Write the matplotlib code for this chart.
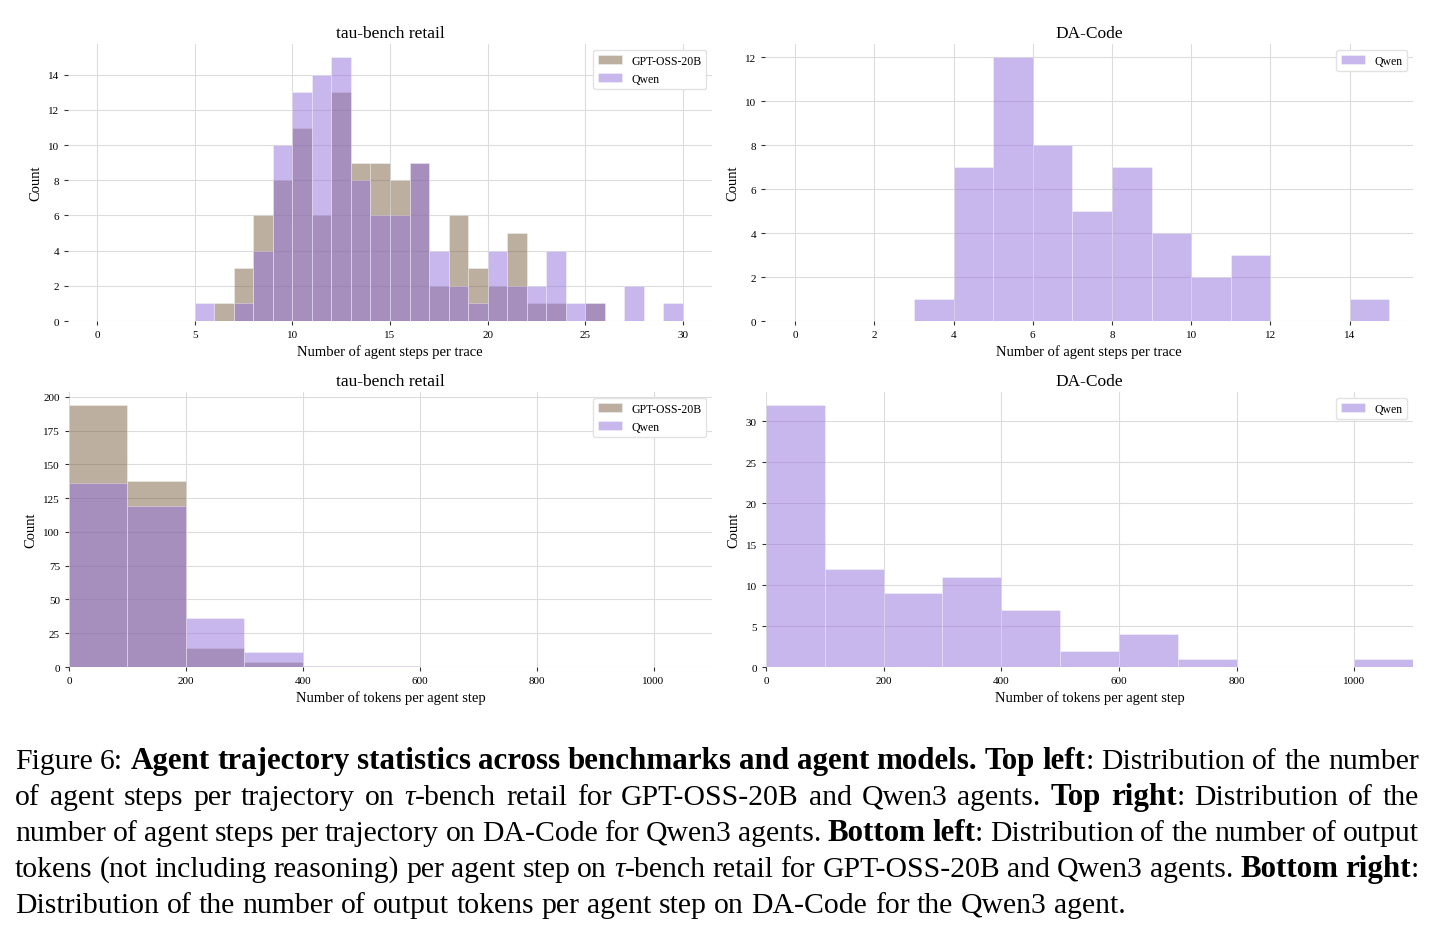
import matplotlib
matplotlib.use('Agg')
import matplotlib.pyplot as plt
from matplotlib.ticker import MultipleLocator

plt.rcParams['font.family'] = ['Liberation Serif', 'DejaVu Serif']

# ---------------- data ----------------
steps_edges = list(range(5, 31))
gpt_steps = [0, 1, 3, 6, 8, 11, 6, 13, 9, 9, 8, 9, 2, 6, 3, 2, 5, 1, 1, 0, 1, 0, 0, 0, 0]
qwen_steps = [1, 0, 1, 4, 10, 13, 14, 15, 8, 6, 6, 9, 4, 2, 1, 4, 2, 2, 4, 1, 1, 0, 2, 0, 1]

da_steps_edges = list(range(3, 16))
qwen_da_steps = [1, 7, 12, 8, 5, 7, 4, 2, 3, 0, 0, 1]

tok_edges = [0, 100, 200, 300, 400, 500, 600]
gpt_tokens = [194, 138, 14, 4, 1, 1]
qwen_tokens = [136, 119, 36, 11, 1, 1]

da_tok_edges = [0, 100, 200, 300, 400, 500, 600, 700, 800, 900, 1000, 1100]
qwen_da_tokens = [32, 12, 9, 11, 7, 2, 4, 1, 0, 0, 1]

titles = ["tau-bench retail", "DA-Code", "tau-bench retail", "DA-Code"]
xlabels = ["Number of agent steps per trace", "Number of agent steps per trace",
           "Number of tokens per agent step", "Number of tokens per agent step"]

GPT_COLOR = '#7b6141'
QWEN_COLOR = '#9370db'
ALPHA = 0.5

W, H = 1439, 937
fig = plt.figure(figsize=(W / 100, H / 100), dpi=100)
fig.patch.set_facecolor('white')


def ax_at(l, t, r, b):
    return fig.add_axes([l / W, 1 - b / H, (r - l) / W, (b - t) / H])


ax1 = ax_at(68, 45, 712, 322)
ax2 = ax_at(765, 45, 1413, 322)
ax3 = ax_at(69, 393, 712, 668)
ax4 = ax_at(766, 393, 1413, 668)


def hist(ax, edges, counts, color, label):
    lefts = edges[:-1]
    widths = [edges[i + 1] - edges[i] for i in range(len(counts))]
    ax.bar(lefts, counts, width=widths, align='edge', color=color, alpha=ALPHA,
           edgecolor='white', linewidth=0.45, label=label)


hist(ax1, steps_edges, gpt_steps, GPT_COLOR, 'GPT-OSS-20B')
hist(ax1, steps_edges, qwen_steps, QWEN_COLOR, 'Qwen')
hist(ax2, da_steps_edges, qwen_da_steps, QWEN_COLOR, 'Qwen')
hist(ax3, tok_edges, gpt_tokens, GPT_COLOR, 'GPT-OSS-20B')
hist(ax3, tok_edges, qwen_tokens, QWEN_COLOR, 'Qwen')
hist(ax4, da_tok_edges, qwen_da_tokens, QWEN_COLOR, 'Qwen')

ax1.set_xlim(-1.5, 31.5)
ax2.set_xlim(-0.76, 15.6)
ax3.set_xlim(0, 1100)
ax4.set_xlim(0, 1100)

ax1.xaxis.set_major_locator(MultipleLocator(5))
ax1.yaxis.set_major_locator(MultipleLocator(2))
ax2.xaxis.set_major_locator(MultipleLocator(2))
ax2.yaxis.set_major_locator(MultipleLocator(2))
ax3.xaxis.set_major_locator(MultipleLocator(200))
ax3.yaxis.set_major_locator(MultipleLocator(25))
ax4.xaxis.set_major_locator(MultipleLocator(200))
ax4.yaxis.set_major_locator(MultipleLocator(5))

for ax, title, xl in zip([ax1, ax2, ax3, ax4], titles, xlabels):
    ax.set_facecolor('white')
    for sp in ax.spines.values():
        sp.set_visible(False)
    ax.grid(True, color='#dcdcdc', linewidth=0.8)
    ax.set_axisbelow(True)
    ax.tick_params(labelsize=8, length=3, width=0.8, color='#333333', pad=3.5)
    ax.set_title(title, fontsize=12.5, pad=5)
    ax.set_xlabel(xl, fontsize=10.5, labelpad=4)
    ax.set_ylabel('Count', fontsize=10.5, labelpad=4)
    ax.legend(loc='upper right', fontsize=8.5, frameon=True, edgecolor='#e2e2e2',
              framealpha=1, borderaxespad=0.5, handlelength=2.0, handleheight=0.7)

# ---------------- caption ----------------
cap_lines = [
    [("Figure 6: ", 'n'), ("Agent trajectory statistics across benchmarks and agent models. Top left", 'b'),
     (": Distribution of the number", 'n')],
    [("of agent steps per trajectory on ", 'n'), ("τ", 'i'),
     ("-bench retail for GPT-OSS-20B and Qwen3 agents. ", 'n'), ("Top right", 'b'),
     (": Distribution of the", 'n')],
    [("number of agent steps per trajectory on DA-Code for Qwen3 agents. ", 'n'), ("Bottom left", 'b'),
     (": Distribution of the number of output", 'n')],
    [("tokens (not including reasoning) per agent step on ", 'n'), ("τ", 'i'),
     ("-bench retail for GPT-OSS-20B and Qwen3 agents. ", 'n'), ("Bottom right", 'b'), (":", 'n')],
    [("Distribution of the number of output tokens per agent step on DA-Code for the Qwen3 agent.", 'n')],
]
baselines = [769, 805, 841, 877, 913]

renderer = fig.canvas.get_renderer()


def measure(s, style, fs):
    kw = {'fontsize': fs}
    if style == 'b':
        kw['fontweight'] = 'bold'
    elif style == 'i':
        kw['fontstyle'] = 'italic'
    t = fig.text(0, 0, s, **kw)
    w = t.get_window_extent(renderer).width
    t.remove()
    return w


def to_words(runs):
    words = [[]]
    for text, style in runs:
        parts = text.split(' ')
        for i, p in enumerate(parts):
            if i > 0:
                words.append([])
            if p:
                words[-1].append((p, style))
    return [w for w in words if w]


def space_w(fs):
    return measure('a a', 'n', fs) - measure('aa', 'n', fs)


# regular size: last (unjustified) line spans x = 15 .. 1127
fs0 = 20.0
words5 = to_words(cap_lines[4])
w5 = sum(measure(s, st, fs0) for w in words5 for s, st in w) + space_w(fs0) * (len(words5) - 1)
fs_n = fs0 * (1127 - 15) / w5
space = space_w(fs_n)

# bold size: first line set with natural spacing fills the full width
words1 = to_words(cap_lines[0])
reg1 = sum(measure(s, st, fs_n) for w in words1 for s, st in w if st != 'b')
bold1 = sum(measure(s, st, fs_n) for w in words1 for s, st in w if st == 'b')
k = (1419 - 15 - reg1 - space * (len(words1) - 1)) / bold1
k = min(max(k, 1.0), 1.12)
SIZES = {'n': fs_n, 'i': fs_n, 'b': fs_n * k}


def word_width(word):
    return sum(measure(s, st, SIZES[st]) for s, st in word)


x0, x1 = 15, 1419
for li, runs in enumerate(cap_lines):
    words = to_words(runs)
    widths = [word_width(w) for w in words]
    if li < len(cap_lines) - 1:
        gap = (x1 - x0 - sum(widths)) / (len(words) - 1)
    else:
        gap = space
    x = x0
    y = 1 - baselines[li] / H
    for w, ww in zip(words, widths):
        xs = x
        for s, st in w:
            kw = {'fontsize': SIZES[st]}
            if st == 'b':
                kw['fontweight'] = 'bold'
            elif st == 'i':
                kw['fontstyle'] = 'italic'
            fig.text(xs / W, y, s, va='baseline', ha='left', **kw)
            xs += measure(s, st, SIZES[st])
        x += ww + gap

fig.savefig('out.png', dpi=100, facecolor='white')
